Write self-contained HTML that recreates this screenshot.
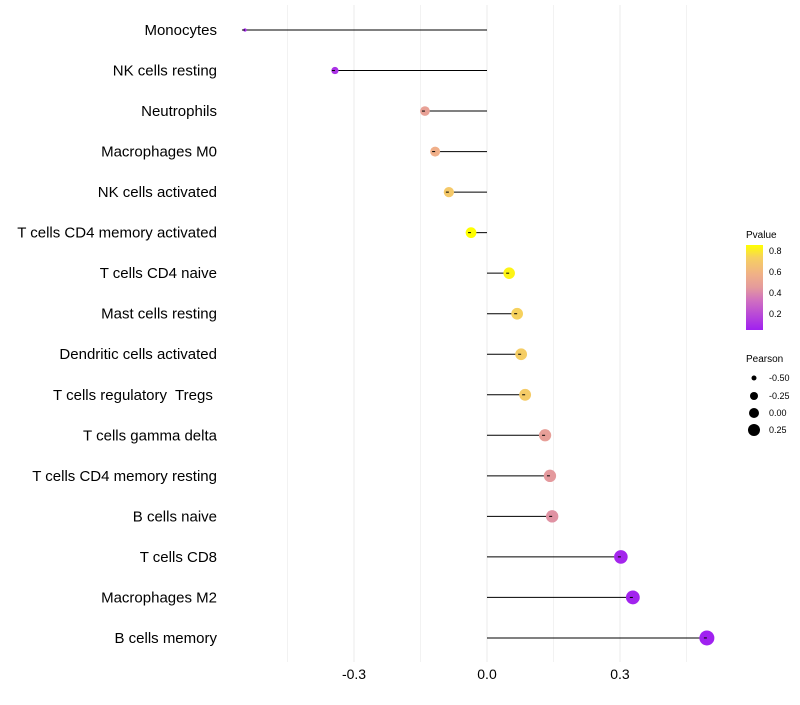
<!DOCTYPE html>
<html><head><meta charset="utf-8"><style>
body{margin:0;background:#fff;font-family:"Liberation Sans",sans-serif}
svg text{font-family:"Liberation Sans",sans-serif;white-space:pre}
</style></head><body>
<svg id="chart" width="800" height="700">
<defs><linearGradient id="pg" x1="0" y1="1" x2="0" y2="0">
<stop offset="0" stop-color="#a020f0"/><stop offset="0.35" stop-color="#d070c0"/><stop offset="0.5" stop-color="#e49a9c"/><stop offset="0.65" stop-color="#f0b088"/><stop offset="0.85" stop-color="#f6d060"/><stop offset="1" stop-color="#ffff00"/></linearGradient></defs>
<g id="grid"></g><g id="marks"></g><g id="labels"></g>
<g>
<text x="746" y="238" font-size="10" fill="#000">Pvalue</text>
<rect x="746" y="245" width="17" height="85" fill="url(#pg)"/>
<text x="769" y="254" font-size="9">0.8</text><text x="769" y="275" font-size="9">0.6</text>
<text x="769" y="296" font-size="9">0.4</text><text x="769" y="317" font-size="9">0.2</text>
</g>
<g>
<text x="746" y="362" font-size="10">Pearson</text>
<circle cx="754" cy="378" r="2.5"/><text x="769" y="381" font-size="9">-0.50</text>
<circle cx="754" cy="396" r="4"/><text x="769" y="399" font-size="9">-0.25</text>
<circle cx="754" cy="413" r="5"/><text x="769" y="416" font-size="9">0.00</text>
<circle cx="754" cy="430" r="6"/><text x="769" y="433" font-size="9">0.25</text>
</g>
</svg>
<script>
const categories=["Monocytes","NK cells resting","Neutrophils","Macrophages M0","NK cells activated","T cells CD4 memory activated","T cells CD4 naive","Mast cells resting","Dendritic cells activated","T cells regulatory  Tregs ","T cells gamma delta","T cells CD4 memory resting","B cells naive","T cells CD8","Macrophages M2","B cells memory"];
const pearson=[-0.546,-0.343,-0.14,-0.117,-0.086,-0.036,0.05,0.068,0.077,0.086,0.131,0.142,0.147,0.302,0.329,0.496];
const pvalues=[0.06,0.1,0.48,0.56,0.69,0.85,0.82,0.73,0.71,0.7,0.47,0.44,0.42,0.06,0.05,0.04];
const xTicks=[-0.3,0,0.3];
const xTickLabels=["-0.3","0.0","0.3"];
const NS="http://www.w3.org/2000/svg";
const x=v=>487+v*443.3;
const y=i=>30+i*40.53;
const r=v=>7.5*Math.sqrt(Math.max(0.02,(v+0.6))/1.096);
function col(p){const t=Math.max(0,Math.min(1,(p-0.038)/(0.848-0.038)));
const st=[[0,[160,32,240]],[0.35,[208,112,192]],[0.5,[228,154,156]],[0.65,[240,176,136]],[0.85,[246,208,96]],[1,[255,255,0]]];
for(let k=1;k<st.length;k++){if(t<=st[k][0]){const a=st[k-1],b=st[k],f=(t-a[0])/(b[0]-a[0]);return "rgb("+a[1].map((c,j)=>Math.round(c+(b[1][j]-c)*f)).join(",")+")";}}return "rgb(255,255,0)";}
function mk(tag,at,parent){const e=document.createElementNS(NS,tag);for(const k in at)e.setAttribute(k,at[k]);document.getElementById(parent).appendChild(e);return e;}
[-0.45,-0.15,0.15,0.45].forEach(v=>{const l=mk("line",{x1:x(v),x2:x(v),y1:5,y2:662,stroke:"#f2f2f2","stroke-width":1},"grid");

});
xTicks.forEach((v,i)=>{const l=mk("line",{x1:x(v),x2:x(v),y1:5,y2:662,stroke:"#ebebeb","stroke-width":1},"grid");


const t=mk("text",{x:x(v),y:679,"text-anchor":"middle","font-size":14,fill:"#000"},"labels");t.textContent=xTickLabels[i];

});
categories.forEach((c,i)=>{
const t=mk("text",{x:217,y:y(i)+5,"text-anchor":"end","font-size":15,fill:"#000"},"labels");t.textContent=c;


const l=mk("line",{x1:x(0),x2:x(pearson[i]),y1:y(i),y2:y(i),stroke:"#000","stroke-width":1},"marks");


const d=mk("circle",{cx:x(pearson[i]),cy:y(i),r:r(pearson[i]),fill:col(pvalues[i])},"marks");


const l2=mk("line",{x1:x(pearson[i])-3,x2:x(pearson[i]),y1:y(i),y2:y(i),stroke:"#000","stroke-width":1},"marks");


});
</script>
</body></html>
